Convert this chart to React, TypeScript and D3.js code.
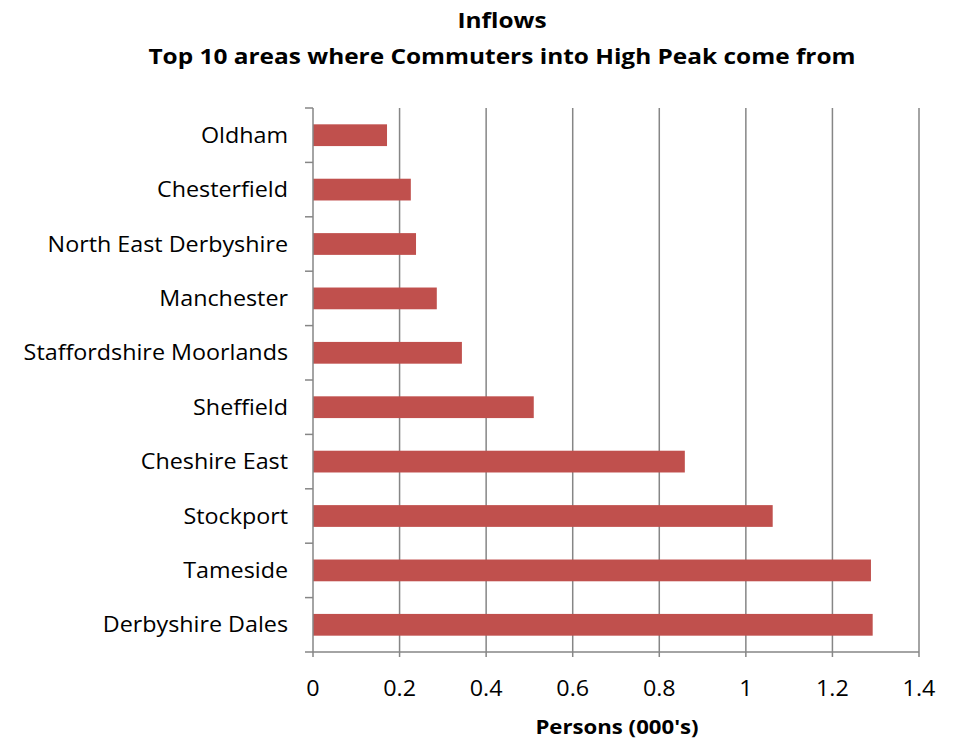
import React from "react";
import * as d3 from "d3";

const categories = [
  "Oldham",
  "Chesterfield",
  "North East Derbyshire",
  "Manchester",
  "Staffordshire Moorlands",
  "Sheffield",
  "Cheshire East",
  "Stockport",
  "Tameside",
  "Derbyshire Dales",
];
const values = [0.171, 0.226, 0.238, 0.286, 0.344, 0.51, 0.859, 1.062, 1.289, 1.293];
const xTicks = [0, 0.2, 0.4, 0.6, 0.8, 1, 1.2, 1.4];
const titleLines = ["Inflows", "Top 10 areas where Commuters into High Peak come from"];
const xAxisTitle = "Persons (000's)";

const W = 954;
const H = 741;
const left = 313;
const right = 919;
const top = 108;
const bottom = 652;
const font = "'Open Sans', sans-serif";
const SX = 1.11;

function T(props: { x: number; y: number; anchor?: string; children: React.ReactNode; dy?: string; size: number; bold?: boolean }) {
  return (
    <text
      transform={`translate(${props.x},${props.y}) scale(${SX},1)`}
      textAnchor={props.anchor ?? "middle"}
      dy={props.dy}
      fontFamily={font}
      fontSize={props.size}
      fontWeight={props.bold ? "bold" : "normal"}
      fill="#000"
    >
      {props.children}
    </text>
  );
}

export default function App() {
  const x = d3.scaleLinear().domain([0, 1.4]).range([left, right]);
  const y = d3.scaleBand<string>().domain(categories).range([top, bottom]).paddingInner(0.6).paddingOuter(0.3);
  const edges = d3.range(categories.length + 1).map((i) => top + (i * (bottom - top)) / categories.length);
  const grid = "#868686";
  return (
    <svg width={W} height={H} style={{ position: "absolute", left: 0, top: 0, background: "#fff" }}>
      <T x={502} y={28} size={22} bold>{titleLines[0]}</T>
      <T x={502} y={64} size={22} bold>{titleLines[1]}</T>
      {xTicks.slice(1).map((t) => (
        <line key={t} x1={x(t)} x2={x(t)} y1={top} y2={bottom} stroke={grid} strokeWidth={1.5} />
      ))}
      {categories.map((c, i) => (
        <rect key={c} x={x(0)} y={y(c)!} width={x(values[i]) - x(0)} height={y.bandwidth()} fill="#C0504D" />
      ))}
      <line x1={left} x2={left} y1={top} y2={bottom} stroke={grid} strokeWidth={1.5} />
      <line x1={left} x2={right} y1={bottom} y2={bottom} stroke={grid} strokeWidth={1.5} />
      {edges.map((e, i) => (
        <line key={i} x1={left - 8} x2={left} y1={e} y2={e} stroke={grid} strokeWidth={1.5} />
      ))}
      {xTicks.map((t) => (
        <line key={t} x1={x(t)} x2={x(t)} y1={bottom} y2={bottom + 5} stroke={grid} strokeWidth={1.5} />
      ))}
      {categories.map((c) => (
        <T key={c} x={288} y={y(c)! + y.bandwidth() / 2} dy="0.36em" anchor="end" size={21}>{c}</T>
      ))}
      {xTicks.map((t) => (
        <T key={t} x={x(t)} y={696} size={21}>{String(t)}</T>
      ))}
      <T x={617} y={734} size={20} bold>{xAxisTitle}</T>
    </svg>
  );
}
